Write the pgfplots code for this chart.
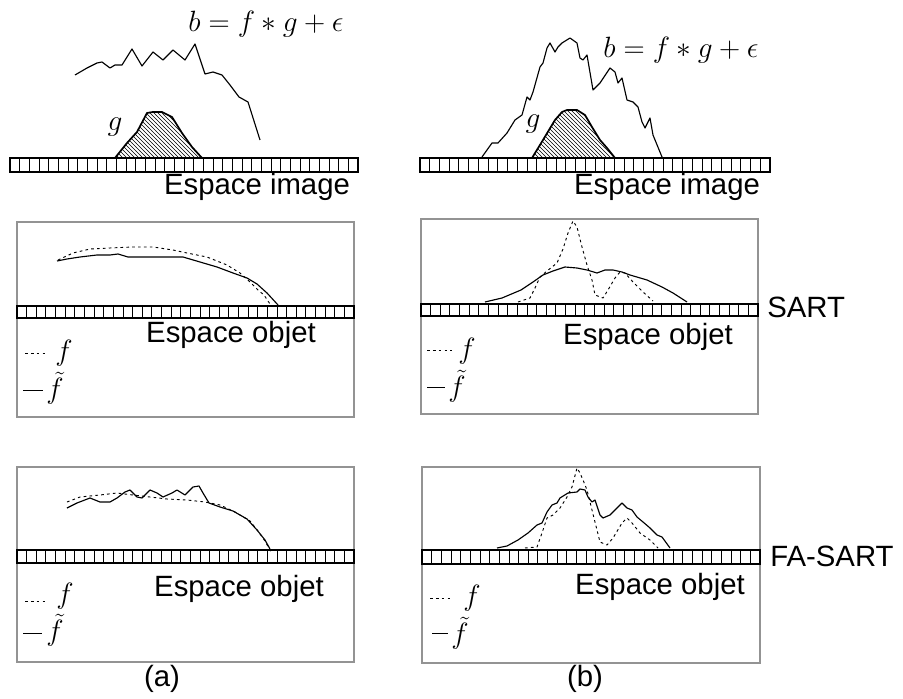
\RequirePackage{fix-cm}
\documentclass[border=0pt]{standalone}
\usepackage[no-math]{fontspec}
\newfontfamily\sansf{Liberation Sans}
\usepackage{pgfplots}
\pgfplotsset{compat=1.18}
\usetikzlibrary{patterns}

\newcommand\cellbar[5]{%
  \draw[line width=0.6pt] \foreach \i in {1,...,#5} { ({#1+\i*(#2-#1)/#5},#3) -- ({#1+\i*(#2-#1)/#5},#4) };
  \draw[line width=1.4pt] (#1,#3) rectangle (#2,#4);
  \draw[line width=2.2pt] (#1,#4) -- (#2,#4);
}

\begin{document}
\begin{tikzpicture}
\begin{axis}[
  width=677.25pt, height=524.25pt, scale only axis,
  xmin=0, xmax=903, ymin=0, ymax=699, y dir=reverse,
  axis lines=none, clip=false,
  every axis plot/.append style={line join=round},
  ftilde/.style={black, line width=0.85pt},
  fdash/.style={black, line width=0.7pt, dash pattern=on 2pt off 2.4pt},
]
% ---- (a) image space
\addplot[black, line width=0.85pt] coordinates {(75,75) (87,68) (97,63) (102,62) (110,68) (115,65) (122,65) (132,49) (142,66) (153,52) (163,60) (173,50) (185,60) (195,44) (205,74) (213,72) (222,75) (230,85) (239,97) (248,102) (260,140)};
\addplot[draw=black, line width=1.3pt, pattern=north west lines] coordinates {(115,158) (127,143) (137,132) (147,113) (153,112) (162,112) (172,117) (182,133) (192,147) (202,158) (115,158)};
% ---- (b) image space
\addplot[black, line width=0.85pt] coordinates {(482,157) (492,143) (498,143) (507,133) (515,120) (522,115) (527,97) (530,100) (533,92) (540,67) (543,63) (547,48) (550,43) (555,52) (558,47) (562,43) (570,38) (577,43) (580,58) (583,60) (587,55) (593,90) (600,83) (610,68) (615,72) (618,83) (622,78) (627,100) (633,102) (638,107) (642,122) (645,128) (650,118) (653,135) (662,157)};
\addplot[draw=black, line width=1.3pt, pattern=north west lines] coordinates {(532,158) (543,140) (555,120) (562,112) (567,110) (577,110) (585,115) (592,127) (600,140) (607,148) (615,158) (532,158)};
% ---- (a) SART
\addplot[ftilde] coordinates {(57,261) (67,259) (80,257) (97,255) (110,255) (118,254) (128,257) (150,257) (183,257) (200,262) (217,267) (233,273) (247,278) (257,284) (267,293) (278,305)};
\addplot[fdash] coordinates {(58,260) (73,253) (90,249) (110,248) (133,247) (153,247) (173,250) (187,253) (207,257) (227,265) (240,273) (250,282) (258,290) (264,295) (270,304)};
% ---- (a) FA-SART
\addplot[ftilde] coordinates {(67,508) (77,503) (90,498) (100,502) (110,502) (117,498) (125,492) (130,490) (137,497) (142,498) (150,490) (157,493) (163,497) (172,493) (177,490) (185,495) (193,487) (199,486) (203,493) (209,503) (220,507) (233,511) (247,519) (257,530) (265,540) (270,549)};
\addplot[fdash] coordinates {(67,502) (80,497) (100,495) (117,493) (133,495) (150,497) (167,499) (187,500) (205,502) (220,505) (235,512) (250,521) (258,531) (265,541) (271,552)};
% ---- (b) SART
\addplot[ftilde] coordinates {(485,302) (502,298) (521,290) (533,282) (543,275) (553,271) (565,267) (577,268) (587,270) (597,273) (605,270) (613,270) (622,272) (630,275) (647,280) (662,287) (673,293) (687,302)};
\addplot[fdash] coordinates {(518,302) (530,298) (535,288) (540,277) (547,271) (557,263) (563,249) (568,233) (573,221) (577,227) (582,247) (587,265) (592,280) (595,295) (603,298) (608,290) (615,278) (620,272) (625,273) (633,282) (643,292) (653,301)};
% ---- (b) FA-SART
\addplot[ftilde] coordinates {(497,548) (507,546) (518,540) (528,533) (537,525) (542,523) (547,512) (552,505) (557,503) (560,498) (568,493) (577,492) (580,489) (585,490) (588,497) (592,502) (595,500) (600,515) (603,518) (610,515) (617,508) (622,503) (627,508) (632,510) (637,517) (643,522) (650,528) (657,535) (662,537) (670,548)};
\addplot[fdash] coordinates {(525,548) (537,547) (542,533) (547,518) (553,515) (560,508) (567,497) (572,487) (577,468) (580,473) (583,480) (587,490) (592,510) (597,530) (600,542) (607,545) (613,538) (622,523) (627,518) (632,523) (640,533) (650,540) (658,548)};
\end{axis}
\begin{scope}[x=0.75pt, y=-0.75pt, shift={(0pt,524.25pt)}]
  % boxes
  \draw[gray!85, line width=1.2pt] (17,222) rectangle (354,417);
  \draw[gray!85, line width=1.2pt] (421,219) rectangle (758,414);
  \draw[gray!85, line width=1.2pt] (17,467) rectangle (354,662);
  \draw[gray!85, line width=1.2pt] (422,467) rectangle (760,663);
  % bars
  \cellbar{10}{358}{158}{172}{36}
  \cellbar{420}{770}{158}{172}{36}
  \cellbar{17}{354}{306}{318}{35}
  \cellbar{421}{758}{304}{316}{35}
  \cellbar{17}{354}{550}{563}{35}
  \cellbar{422}{760}{550}{564}{35}
  % sans texts
  \tikzset{st/.style={anchor=base, inner sep=0pt, font=\sansf\fontsize{22}{26}\selectfont}}
  \node[st] at (257,195) {Espace image};
  \node[st] at (667,195) {Espace image};
  \node[st] at (231,343) {Espace objet};
  \node[st] at (648,345) {Espace objet};
  \node[st] at (239,597) {Espace objet};
  \node[st] at (660,595) {Espace objet};
  \node[st, anchor=base west] at (767,318) {SART};
  \node[st, anchor=base west] at (770,567) {FA-SART};
  \node[st] at (162,687) {(a)};
  \node[st] at (585,687) {(b)};
  % math texts
  \tikzset{mt/.style={anchor=base, inner sep=0pt, font=\fontsize{22}{26}\selectfont},
           mf/.style={mt, text depth=0pt},
           mft/.style={mt, text height=0.45em}}
  \node[mt, anchor=base west] at (188,32) {$b=f*g+\epsilon$};
  \node[mt, anchor=base west] at (603,58) {$b=f*g+\epsilon$};
  \node[mt] at (115,131) {$g$};
  \node[mt] at (533,128) {$g$};
  % legends
  \draw[line width=0.7pt, dash pattern=on 2pt off 2.4pt] (25,353) -- (47,353);
  \node[mf] at (64,361) {$f$};
  \draw[line width=0.7pt] (23,390) -- (43,390);
  \node[mft] at (55,399) {$\tilde f$};
  \draw[line width=0.7pt, dash pattern=on 2pt off 2.4pt] (25,601) -- (47,601);
  \node[mf] at (65,604) {$f$};
  \draw[line width=0.7pt] (23,633) -- (42,633);
  \node[mft] at (55,641) {$\tilde f$};
  \draw[line width=0.7pt, dash pattern=on 2pt off 2.4pt] (427,350) -- (452,350);
  \node[mf] at (467,359) {$f$};
  \draw[line width=0.7pt] (427,387) -- (445,387);
  \node[mft] at (457,397) {$\tilde f$};
  \draw[line width=0.7pt, dash pattern=on 2pt off 2.4pt] (430,598) -- (453,598);
  \node[mf] at (472,606) {$f$};
  \draw[line width=0.7pt] (432,633) -- (448,633);
  \node[mft] at (460,644) {$\tilde f$};
\end{scope}
\pgfresetboundingbox
\path (0,0) rectangle (677.25pt,524.25pt);
\end{tikzpicture}
\end{document}
